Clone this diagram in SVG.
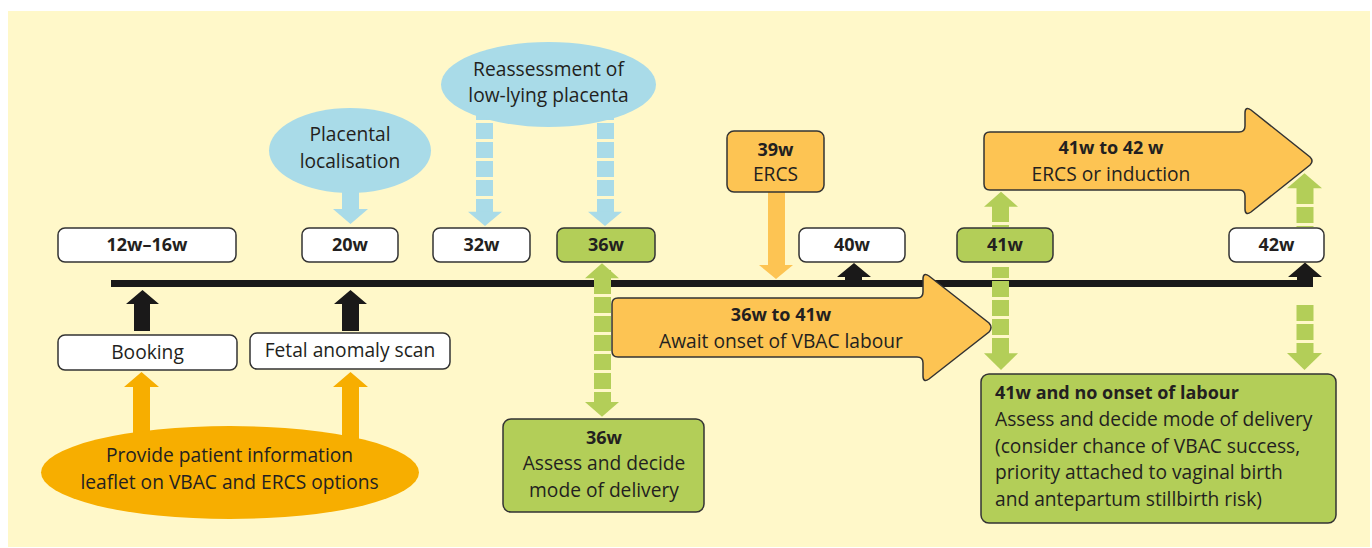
<svg xmlns="http://www.w3.org/2000/svg" width="1372" height="548" viewBox="0 0 1372 548">
<style>
text{font-family:"Open Sans","Noto Sans","Liberation Sans",sans-serif;fill:#231F20;font-size:19.2px}
.c{text-anchor:middle}
.b{font-weight:bold;font-size:18px}
.wb{fill:#FFFFFF;stroke:#333333;stroke-width:1.5}
.gb{fill:#B3CE58;stroke:#333333;stroke-width:1.5}
.ob{fill:#FDC453;stroke:#333333;stroke-width:1.5}
.blue{fill:#A9DBE8}
.green{fill:#B3CE58}
.gdash{stroke:#B3CE58;stroke-width:17;stroke-dasharray:16 3;fill:none}
.bdash{stroke:#A9DBE8;stroke-width:17;stroke-dasharray:16 3;fill:none}
.blk{fill:#1A1919}
.org{fill:#F7AE00}
.lorg{fill:#FDC453}
</style>
<rect x="8" y="11" width="1362" height="536" fill="#FFF8C9"/>

<g id="connectors">
  <rect class="blk" x="111" y="280" width="1202" height="7"/>
  <path class="blue" d="M342,185 H359 V209 H368 L350.5,224 L333,209 H342 Z"/>
  <line class="bdash" x1="484.5" y1="104" x2="484.5" y2="212"/>
  <path class="blue" d="M468,211.7 H502 L485,226 Z"/>
  <line class="bdash" x1="605.5" y1="104" x2="605.5" y2="212"/>
  <path class="blue" d="M588,211.7 H622 L605,226 Z"/>
  <path class="lorg" d="M768,190 H785 V265 H793 L776,279 L759,265 H768 Z"/>
  <path class="blk" d="M845,281 V277 H837 L854,263 L871,277 H862 V281 Z"/>
  <path class="blk" d="M1297,283 V277 H1288 L1305,262.5 L1322,277 H1313 V283 Z"/>
  <path class="blk" d="M134,331 V304 H126 L142.5,290 L159,304 H150 V331 Z"/>
  <path class="blk" d="M342,331 V304 H334 L350.5,290 L367,304 H359 V331 Z"/>
  <path class="org" d="M133,440 V387 H124 L141.5,372 L159,387 H150 V440 Z"/>
  <path class="org" d="M342,440 V387 H333 L350.5,372 L368,387 H359 V440 Z"/>
  <line class="gdash" x1="602.5" y1="270" x2="602.5" y2="403" stroke-dashoffset="-8"/>
  <path class="green" d="M585,278.3 H619 L602,263.3 Z"/>
  <path class="green" d="M585,402 H619 L602,416.7 Z"/>
  <line class="gdash" x1="1000.5" y1="206" x2="1000.5" y2="227" stroke-dasharray="11 8 20"/>
  <path class="green" d="M984,206.7 H1018 L1001,191.7 Z"/>
  <line class="gdash" x1="1000.5" y1="267" x2="1000.5" y2="354" stroke-dashoffset="-14"/>
  <path class="green" d="M984,353.3 H1018 L1001,370 Z"/>
  <line class="gdash" x1="1305" y1="188" x2="1305" y2="227"/>
  <path class="green" d="M1287,188.3 H1322 L1304.5,173.3 Z"/>
  <line class="gdash" x1="1305" y1="305" x2="1305" y2="354"/>
  <path class="green" d="M1287,353 H1322 L1304.5,370 Z"/>
</g>

<g id="n-placental">
  <ellipse class="blue" cx="350" cy="150.5" rx="81" ry="42.5"/>
  <text class="c" x="350" y="141">Placental</text>
  <text class="c" x="350" y="168">localisation</text>
</g>
<g id="n-reassess">
  <ellipse class="blue" cx="548.5" cy="84.5" rx="107.5" ry="42.5"/>
  <text class="c" x="548.5" y="76">Reassessment of</text>
  <text class="c" x="548.5" y="102">low-lying placenta</text>
</g>
<g id="n-ercs39">
  <rect class="ob" x="727" y="131" width="97" height="61" rx="7"/>
  <text class="c b" x="775.5" y="156">39w</text>
  <text class="c" x="775.5" y="181">ERCS</text>
</g>
<g id="n-41to42">
  <path class="ob" d="M990,132 H1239 Q1245,132 1245,126 V113 Q1245,106 1251,110 L1310,157 Q1314,161 1310,165 L1251,212 Q1245,216 1245,209 V196 Q1245,190 1239,190 H990 Q984,190 984,184 V138 Q984,132 990,132 Z"/>
  <text class="c b" x="1111" y="154">41w to 42 w</text>
  <text class="c" x="1111" y="181">ERCS or induction</text>
</g>

<g id="n-12w"><rect class="wb" x="58" y="228" width="178" height="34" rx="7"/><text class="c b" x="147" y="251">12w–16w</text></g>
<g id="n-20w"><rect class="wb" x="302" y="228" width="96" height="34" rx="7"/><text class="c b" x="350" y="251">20w</text></g>
<g id="n-32w"><rect class="wb" x="433" y="228" width="97" height="34" rx="7"/><text class="c b" x="481.5" y="251">32w</text></g>
<g id="n-36w"><rect class="gb" x="557" y="228" width="98" height="34" rx="7"/><text class="c b" x="606" y="251">36w</text></g>
<g id="n-40w"><rect class="wb" x="799" y="228" width="106" height="34" rx="7"/><text class="c b" x="852" y="251">40w</text></g>
<g id="n-41w"><rect class="gb" x="957" y="228" width="96" height="34" rx="7"/><text class="c b" x="1005" y="251">41w</text></g>
<g id="n-42w"><rect class="wb" x="1229" y="228" width="95" height="34" rx="7"/><text class="c b" x="1276.5" y="251">42w</text></g>

<g id="n-36to41">
  <path class="ob" d="M618,298 H917 Q923,298 923,292 V279 Q923,272 929,276 L989,323 Q993,327.5 989,332 L929,379 Q923,383 923,376 V363 Q923,357 917,357 H618 Q612,357 612,351 V304 Q612,298 618,298 Z"/>
  <text class="c b" x="781" y="321">36w to 41w</text>
  <text class="c" x="781" y="348">Await onset of VBAC labour</text>
</g>

<g id="n-booking"><rect class="wb" x="58" y="335" width="179" height="35" rx="7"/><text class="c" x="147.5" y="359">Booking</text></g>
<g id="n-fetal"><rect class="wb" x="250" y="333" width="200" height="36" rx="7"/><text class="c" x="350" y="357">Fetal anomaly scan</text></g>

<g id="n-leaflet">
  <ellipse class="org" cx="230" cy="472.5" rx="189" ry="46.5"/>
  <text class="c" x="229.5" y="462">Provide patient information</text>
  <text class="c" x="229.5" y="489">leaflet on VBAC and ERCS options</text>
</g>

<g id="n-36assess">
  <rect class="gb" x="503" y="419" width="201" height="93" rx="8"/>
  <text class="c b" x="604" y="444">36w</text>
  <text class="c" x="604" y="470">Assess and decide</text>
  <text class="c" x="604" y="497">mode of delivery</text>
</g>

<g id="n-41assess">
  <rect class="gb" x="981" y="374" width="355" height="149" rx="8"/>
  <text class="b" x="995" y="399">41w and no onset of labour</text>
  <text x="995" y="426">Assess and decide mode of delivery</text>
  <text x="995" y="453">(consider chance of VBAC success,</text>
  <text x="995" y="479">priority attached to vaginal birth</text>
  <text x="995" y="506">and antepartum stillbirth risk)</text>
</g>
</svg>
